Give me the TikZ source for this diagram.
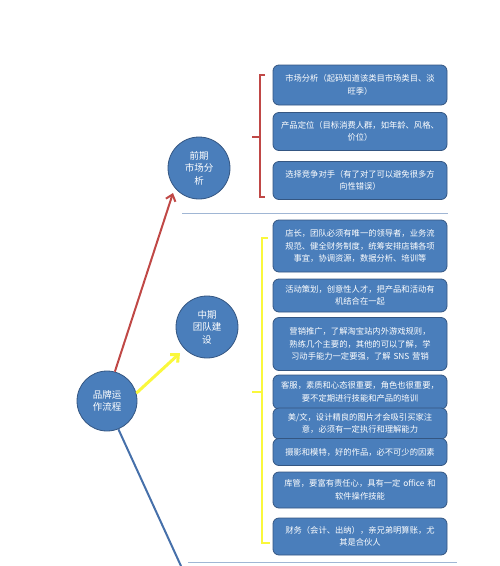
\documentclass[tikz,border=0pt]{standalone}
\usepackage{fontspec}
\setmainfont{Noto Sans CJK SC}
\usetikzlibrary{arrows.meta}
\definecolor{boxfill}{RGB}{74,126,187}
\definecolor{boxline}{RGB}{52,86,130}
\definecolor{redl}{RGB}{192,72,70}
\definecolor{yell}{RGB}{250,248,60}
\definecolor{bluel}{RGB}{70,112,170}
\definecolor{sepl}{RGB}{160,182,212}
\tikzset{
  infobox/.style={draw=boxline, line width=0.8pt, fill=boxfill, rounded corners=6pt,
    minimum width=174pt, text width=168pt, align=center, text=white,
    font=\fontsize{8.3}{12.5}\selectfont, inner sep=1pt},
  circ/.style={circle, draw=boxline, line width=0.8pt, fill=boxfill, text=white,
    align=center, font=\fontsize{9.5}{12.5}\selectfont, inner sep=0pt},
  sep/.style={draw=sepl, line width=0.8pt},
}
\begin{document}
\begin{tikzpicture}[x=1pt,y=-1pt]
\useasboundingbox (0,0) rectangle (500,566);
% circles
\node[circ, minimum size=62pt] (c1) at (199,168) {前期\\市场分\\析};
\node[circ, minimum size=62pt] (c2) at (207,327) {中期\\团队建\\设};
\node[circ, minimum size=60pt] (c0) at (107,401) {品牌运\\作流程};
% boxes
\node[infobox, minimum height=40pt] (b1) at (360,85) {市场分析（起码知道该类目市场类目、淡\\旺季）};
\node[infobox, minimum height=38pt] (b2) at (360,131.5) {产品定位（目标消费人群，如年龄、风格、\\价位）};
\node[infobox, minimum height=38pt] (b3) at (360,180.5) {选择竞争对手（有了对了可以避免很多方\\向性错误）};
\node[infobox, minimum height=52pt] (b4) at (360,246) {店长，团队必须有唯一的领导者，业务流\\规范、健全财务制度，统筹安排店铺各项\\事宜，协调资源，数据分析、培训等};
\node[infobox, minimum height=33pt] (b5) at (360,295.5) {活动策划，创意性人才，把产品和活动有\\机结合在一起};
\node[infobox, minimum height=53pt] (b6) at (360,344) {营销推广，了解淘宝站内外游戏规则，\\熟练几个主要的，其他的可以了解，学\\习动手能力一定要强，了解 SNS 营销};
\node[infobox, minimum height=34pt] (b7) at (360,392) {客服，素质和心态很重要，角色也很重要，\\要不定期进行技能和产品的培训};
\node[infobox, minimum height=31pt] (b8) at (360,423.5) {美/文，设计精良的图片才会吸引买家注\\意，必须有一定执行和理解能力};
\node[infobox, minimum height=27pt] (b9) at (360,452) {摄影和模特，好的作品，必不可少的因素};
\node[infobox, minimum height=36pt] (b10) at (360,490) {库管，要富有责任心，具有一定 office 和\\软件操作技能};
\node[infobox, minimum height=37pt] (b11) at (360,536.5) {财务（会计、出纳），亲兄弟明算账，尤\\其是合伙人};
% separators
\coordinate (s1a) at (182,213); \coordinate (s1b) at (448,213);
\coordinate (s2a) at (188,562); \coordinate (s2b) at (457,562);
\draw[sep] (s1a) -- (s1b);
\draw[sep] (s2a) -- (s2b);
% brackets
\draw[redl, line width=2pt] (265,75) -- (260,75) -- (260,197) -- (265,197);
\draw[redl, line width=2pt] (260,137) -- (252,137);
\draw[yell, line width=2.5pt] (268,238) -- (262,238) -- (262,543) -- (270,543);
\draw[yell, line width=2.5pt] (262,392) -- (252,392);
% connectors
\coordinate (redtip) at (173,193);
\coordinate (yeltip) at (180,353);
\coordinate (blueend) at (181,566);
\draw[redl, line width=2pt, -{Straight Barb[length=6pt,width=10pt]}] (c0.75) -- (redtip);
\draw[yell, line width=3pt, -{Straight Barb[length=6pt,width=11pt]}] (c0.15) -- (yeltip);
\draw[bluel, line width=2pt] (c0.-68) -- (blueend);
\end{tikzpicture}
\end{document}
